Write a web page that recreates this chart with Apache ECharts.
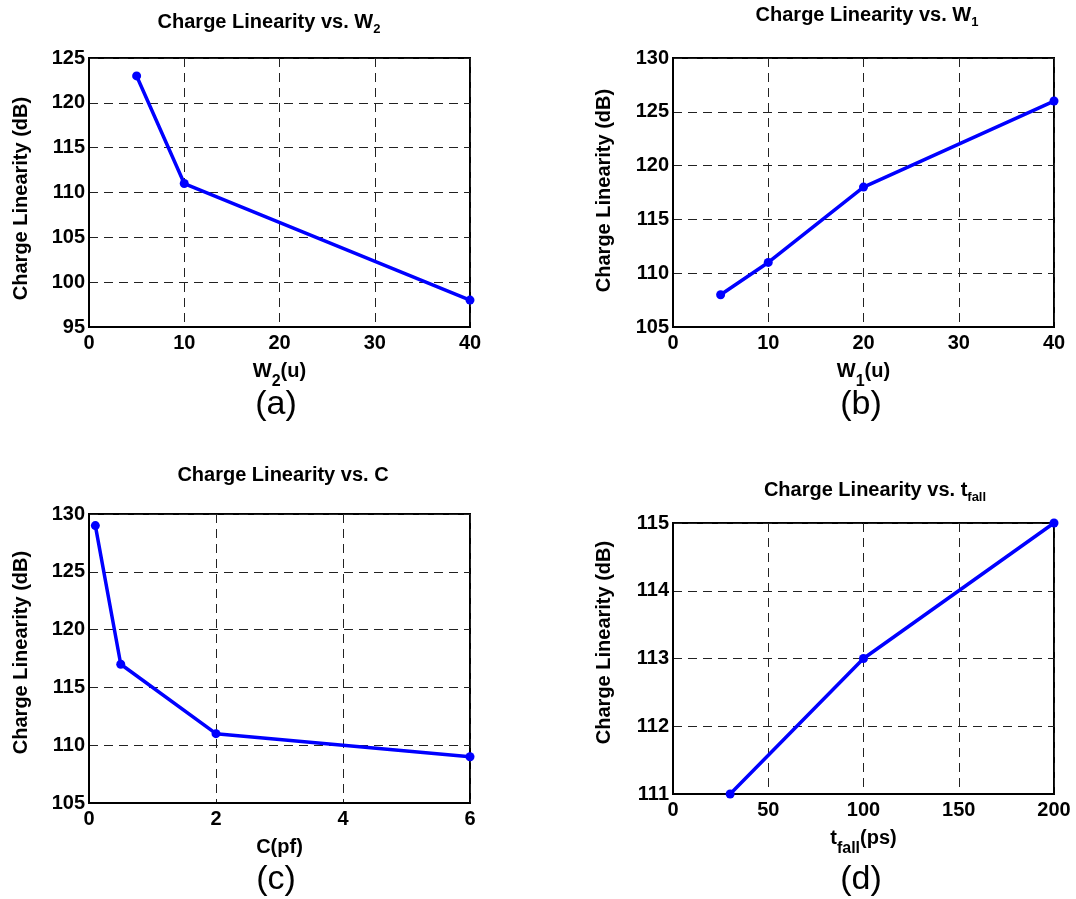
<!DOCTYPE html>
<html>
<head>
<meta charset="utf-8">
<script src="https://cdn.jsdelivr.net/npm/echarts@6/dist/echarts.min.js"></script>
<style>html,body{margin:0;padding:0;background:#fff;}#c{width:1076px;height:899px;}</style>
</head>
<body>
<div id="c"></div>
<script>
// ---- data ----
const aX = [5, 10, 40];
const aY = [123, 111, 98];
const bX = [5, 10, 20, 40];
const bY = [108, 111, 118, 126];
const cX = [0.1, 0.5, 2, 6];
const cY = [129, 117, 111, 109];
const dX = [30, 100, 200];
const dY = [111, 113, 115];

const titles = ['Charge Linearity vs. W{s|2}', 'Charge Linearity vs. W{s|1}', 'Charge Linearity vs. C', 'Charge Linearity vs. t{s|fall}'];
const xNames = ['W{s|2}(u)', 'W{s|1}(u)', 'C(pf)', 't{s|fall}(ps)'];
const yName = 'Charge Linearity (dB)';
const panelLabels = ['(a)', '(b)', '(c)', '(d)'];
const xRanges = [[0, 40, 10], [0, 40, 10], [0, 6, 2], [0, 200, 50]];
const yRanges = [[95, 125, 5], [105, 130, 5], [105, 130, 5], [111, 115, 1]];

// ---- layout ----
const FONT = '"Liberation Sans", Arial, Helvetica, sans-serif';
const grids = [
  {left: 89, top: 58, width: 381, height: 269},
  {left: 673, top: 58, width: 381, height: 269},
  {left: 89, top: 514, width: 381, height: 289},
  {left: 673, top: 523, width: 381, height: 271}
];
const titlePos = [[269, 8], [867, 1], [283, 461], [875, 476]];
const labelPos = [[276, 388], [861, 388], [276, 863], [861, 863]];
const xNameGap = [16, 16, 19, 19];
const yNameGap = [58, 59, 58, 59];
const yNamePad = [[0, 12, 0, 0], [0, 0, 0, 4], [0, 0, 0, 12], [0, 0, 0, 32]];
const datasets = [[aX, aY], [bX, bY], [cX, cY], [dX, dY]];

const subRich = {s: {fontSize: 13, fontWeight: 'bold', fontFamily: FONT, color: '#000', verticalAlign: 'bottom', lineHeight: 28}};
const subRichX = {s: {fontSize: 16, fontWeight: 'bold', fontFamily: FONT, color: '#000', verticalAlign: 'bottom', lineHeight: 36}};

const option = {
  animation: false,
  backgroundColor: '#fff',
  title: [],
  grid: [],
  xAxis: [],
  yAxis: [],
  series: []
};

for (let i = 0; i < 4; i++) {
  option.title.push({
    text: titles[i], left: titlePos[i][0], top: titlePos[i][1], textAlign: 'center', padding: 0,
    textStyle: {fontSize: 20, fontWeight: 'bold', fontFamily: FONT, color: '#000', lineHeight: 28, rich: subRich}
  });
  option.title.push({
    text: panelLabels[i], left: labelPos[i][0], top: labelPos[i][1], textAlign: 'center', padding: 0,
    textStyle: {fontSize: 34, fontWeight: 'normal', fontFamily: FONT, color: '#000'}
  });
  option.grid.push(Object.assign({show: true, borderColor: '#000', borderWidth: 2, backgroundColor: 'transparent'}, grids[i]));
  const dash = {show: true, lineStyle: {color: '#222', width: 1, type: [9, 6]}};
  option.xAxis.push({
    type: 'value', gridIndex: i, min: xRanges[i][0], max: xRanges[i][1], interval: xRanges[i][2],
    name: xNames[i], nameLocation: 'middle', nameGap: xNameGap[i],
    nameTextStyle: {fontSize: 20, fontWeight: 'bold', fontFamily: FONT, color: '#000', lineHeight: 36, rich: subRichX},
    axisLine: {show: true, onZero: false, lineStyle: {color: '#000', width: 2}},
    axisTick: {show: false},
    axisLabel: {fontSize: 20, fontWeight: 'bold', fontFamily: FONT, color: '#000', margin: 6},
    splitLine: dash
  });
  option.yAxis.push({
    type: 'value', gridIndex: i, min: yRanges[i][0], max: yRanges[i][1], interval: yRanges[i][2],
    name: yName, nameLocation: 'middle', nameGap: yNameGap[i], nameRotate: 90,
    nameTextStyle: {fontSize: 20, fontWeight: 'bold', fontFamily: FONT, color: '#000', padding: yNamePad[i]},
    axisLine: {show: true, onZero: false, lineStyle: {color: '#000', width: 2}},
    axisTick: {show: false},
    axisLabel: {fontSize: 20, fontWeight: 'bold', fontFamily: FONT, color: '#000', margin: 4},
    splitLine: dash
  });
  const xs = datasets[i][0], ys = datasets[i][1];
  option.series.push({
    type: 'line', xAxisIndex: i, yAxisIndex: i,
    data: xs.map((x, k) => [x, ys[k]]),
    symbol: 'circle', symbolSize: 9, clip: false,
    lineStyle: {color: '#0000ff', width: 3.5},
    itemStyle: {color: '#0000ff'}
  });
}

const chart = echarts.init(document.getElementById('c'), null, {renderer: 'canvas'});
chart.setOption(option);
</script>
</body>
</html>
